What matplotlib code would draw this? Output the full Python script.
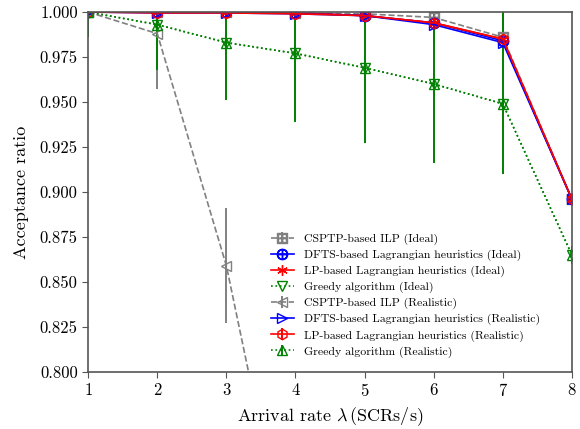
import matplotlib
matplotlib.use("Agg")
import matplotlib.pyplot as plt

plt.rcParams["font.family"] = ["cmr10", "DejaVu Serif"]
plt.rcParams["mathtext.fontset"] = "cm"
plt.rcParams["axes.formatter.use_mathtext"] = True

# arrival rates (SCRs/s)
rates = [1, 2, 3, 4, 5, 6, 7, 8]

# acceptance ratios
csptp_ideal = [1.0, 1.0, 1.0, 0.9995, 0.999, 0.997, 0.986, 0.896]
dfts_ideal = [1.0, 1.0, 1.0, 0.9995, 0.998, 0.994, 0.984, 0.896]
lp_ideal = [1.0, 1.0, 1.0, 0.9995, 0.998, 0.994, 0.985, 0.896]
greedy_ideal = [1.0, 0.993, 0.983, 0.977, 0.969, 0.960, 0.949, 0.865]
csptp_real = [1.0, 0.988, 0.859, 0.675, 0.55, 0.45, 0.38, 0.30]
dfts_real = [1.0, 0.9995, 0.9995, 0.999, 0.998, 0.993, 0.983, 0.896]
lp_real = [1.0, 0.9995, 0.9995, 0.999, 0.998, 0.994, 0.985, 0.896]
greedy_real = [1.0, 0.993, 0.983, 0.977, 0.969, 0.960, 0.949, 0.865]

# error bar bounds (low, high)
greedy_real_lo = [0.986, 0.968, 0.951, 0.939, 0.927, 0.916, 0.910, 0.860]
greedy_real_hi = [1.0, 1.0, 1.0, 1.0, 1.0, 1.0, 1.0, 0.870]
csptp_real_lo = [1.0, 0.957, 0.827, 0.60, 0.50, 0.40, 0.33, 0.25]
csptp_real_hi = [1.0, 1.0, 0.891, 0.75, 0.60, 0.50, 0.43, 0.35]
csptp_ideal_lo = [1.0, 1.0, 1.0, 0.999, 0.997, 0.983, 0.980, 0.893]
csptp_ideal_hi = [1.0, 1.0, 1.0, 1.0, 1.0, 1.0, 0.992, 0.899]
lp_real_lo = [1.0, 0.999, 0.999, 0.998, 0.996, 0.990, 0.982, 0.894]
lp_real_hi = [1.0, 1.0, 1.0, 1.0, 1.0, 0.998, 1.01, 0.898]


def err(vals, lo, hi):
    return [[v - l for v, l in zip(vals, lo)], [h - v for v, h in zip(vals, hi)]]


fig, ax = plt.subplots(figsize=(5.8, 4.29), dpi=100)
fig.subplots_adjust(left=0.152, right=0.986, top=0.972, bottom=0.133)

common = dict(markersize=7.5, markerfacecolor="none", markeredgewidth=1.0,
              capsize=0, elinewidth=1.4, linewidth=1.2)

ax.errorbar(rates, csptp_ideal, yerr=err(csptp_ideal, csptp_ideal_lo, csptp_ideal_hi),
            color="gray", linestyle="--", marker=r"$\boxplus$", label="CSPTP-based ILP (Ideal)", **common)
ax.errorbar(rates, dfts_ideal, color="blue", linestyle="-", marker=r"$\oplus$",
            label="DFTS-based Lagrangian heuristics (Ideal)", **common)
ax.errorbar(rates, lp_ideal, color="red", linestyle="-", marker=(6, 2, 0),
            label="LP-based Lagrangian heuristics (Ideal)", **common)
ax.errorbar(rates, greedy_ideal, color="green", linestyle=":", marker="v",
            label="Greedy algorithm (Ideal)", **common)
ax.errorbar(rates, csptp_real, yerr=err(csptp_real, csptp_real_lo, csptp_real_hi),
            color="gray", linestyle="--", marker="<", label="CSPTP-based ILP (Realistic)", **common)
ax.errorbar(rates, dfts_real, color="blue", linestyle="-", marker=">",
            label="DFTS-based Lagrangian heuristics (Realistic)", **common)
ax.errorbar(rates, lp_real, yerr=err(lp_real, lp_real_lo, lp_real_hi),
            color="red", linestyle="-", marker="h",
            label="LP-based Lagrangian heuristics (Realistic)", **common)
ax.errorbar(rates, greedy_real, yerr=err(greedy_real, greedy_real_lo, greedy_real_hi),
            color="green", linestyle=":", marker="^", label="Greedy algorithm (Realistic)", **common)

ax.set_xlim(1, 8)
ax.set_ylim(0.8, 1.0)
ax.set_xticks(rates)
ax.set_yticks([0.8, 0.825, 0.85, 0.875, 0.9, 0.925, 0.95, 0.975, 1.0])
ax.yaxis.set_major_formatter(matplotlib.ticker.FormatStrFormatter("%.3f"))
ax.tick_params(labelsize=12, color="#555555", length=4)
for s in ax.spines.values():
    s.set_color("#555555")
    s.set_linewidth(1.2)

ax.set_xlabel(r"Arrival rate $\lambda\,$(SCRs/s)", fontsize=13)
ax.set_ylabel("Acceptance ratio", fontsize=13, labelpad=8)

ax.legend(loc="lower left", bbox_to_anchor=(0.355, 0.01), frameon=False, fontsize=8.5,
          labelspacing=0.4, handlelength=2.0, handletextpad=0.8)

fig.savefig("out.png", dpi=100)
